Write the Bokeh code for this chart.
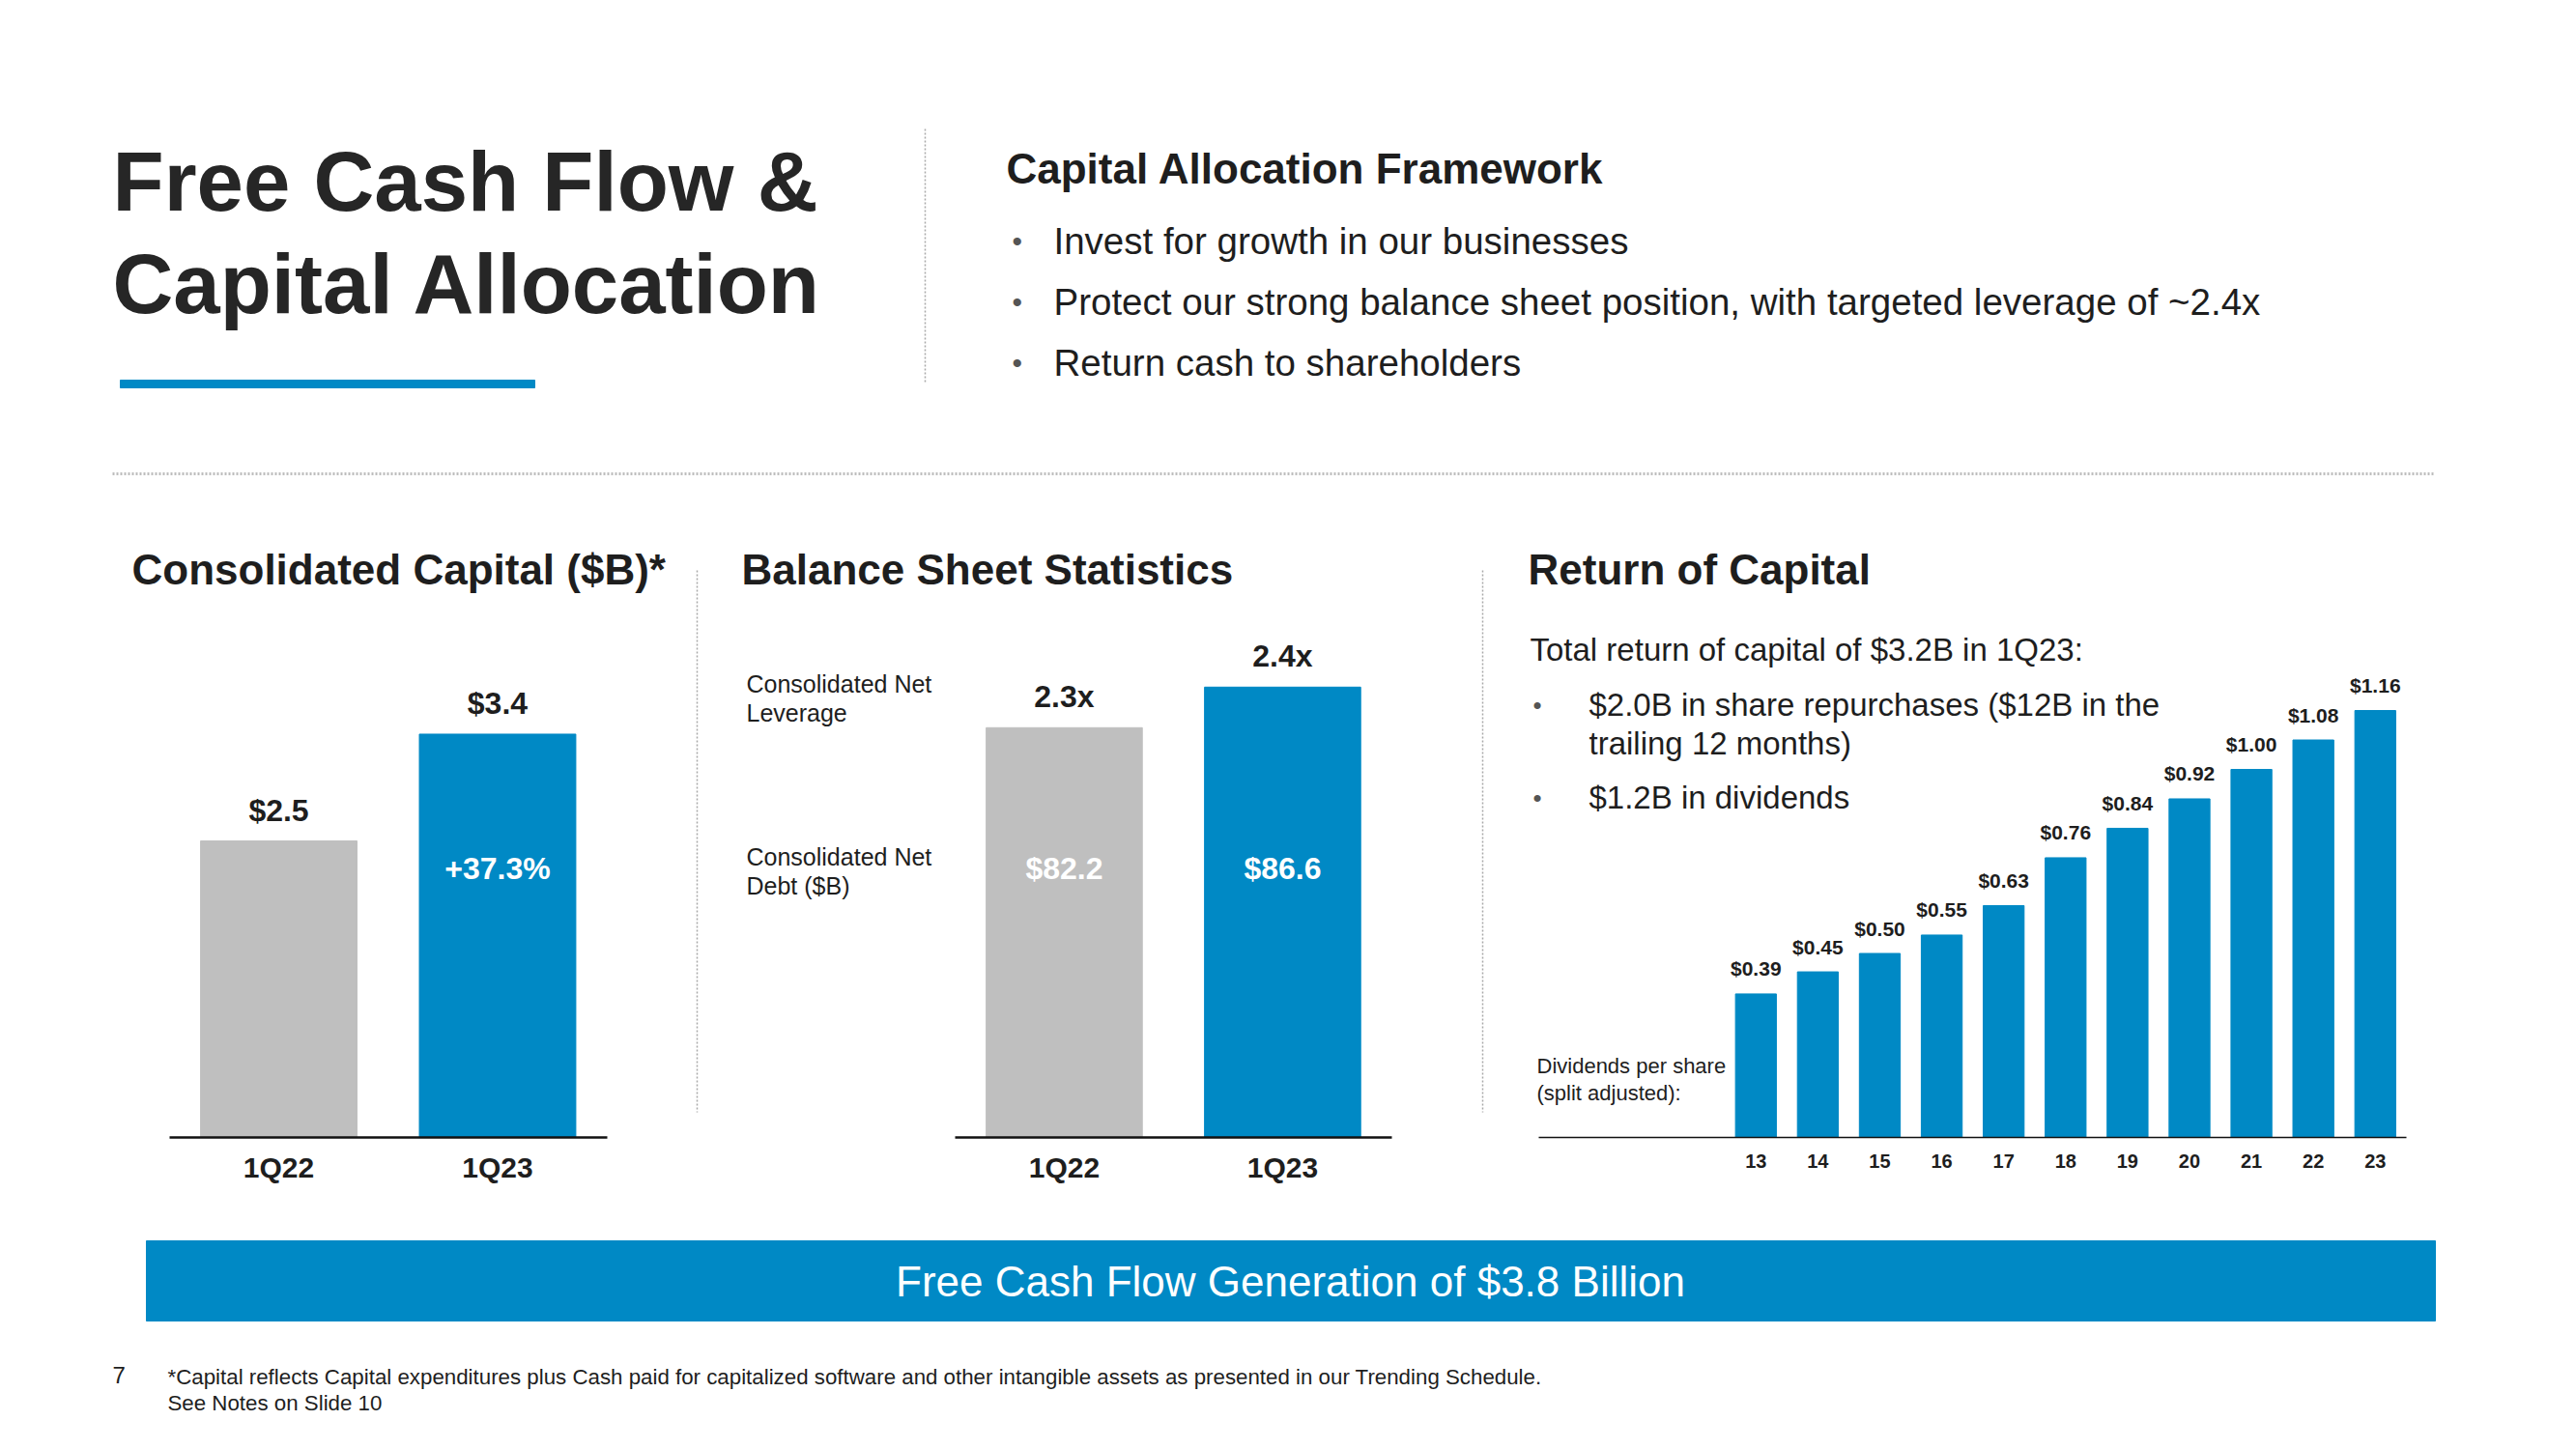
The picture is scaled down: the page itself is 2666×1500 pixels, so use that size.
from bokeh.plotting import figure
from bokeh.layouts import column, row
from bokeh.models import Range1d, LinearAxis, FixedTicker
from bokeh.embed import file_html
from bokeh.resources import INLINE
from bokeh.core.properties import value

# ---------------- data ----------------
capital_periods = ["1Q22", "1Q23"]
capital_values = [2.5, 3.4]
capital_change = "+37.3%"

leverage_periods = ["1Q22", "1Q23"]
leverage_values = [2.3, 2.4]
net_debt_values = [82.2, 86.6]

dividend_years = ["13", "14", "15", "16", "17", "18", "19", "20", "21", "22", "23"]
dividend_values = [0.39, 0.45, 0.50, 0.55, 0.63, 0.76, 0.84, 0.92, 1.00, 1.08, 1.16]

framework_bullets = [
    "Invest for growth in our businesses",
    "Protect our strong balance sheet position, with targeted leverage of ~2.4x",
    "Return cash to shareholders",
]
return_bullets = [
    "$2.0B in share repurchases ($12B in the",
    "trailing 12 months)",
    "$1.2B in dividends",
]

# ---------------- style ----------------
BLUE = "#0089C5"
GRAY = "#BFBFBF"
DARK = "#262626"
TEXT = "#1E1E1E"
SEP = "#A8A8A8"
FONT = "Liberation Sans"
period_colors = [GRAY, BLUE]


def base_fig(w, h, xr, yr, bottom=0):
    p = figure(width=w, height=h, x_range=xr, y_range=yr,
               output_backend="svg", toolbar_location=None,
               x_axis_location=None, y_axis_location=None,
               min_border_left=0, min_border_right=0, min_border_top=0,
               min_border_bottom=bottom, outline_line_color=None,
               background_fill_color="white", border_fill_color="white")
    p.xgrid.visible = False
    p.ygrid.visible = False
    return p


def txt(p, x, y, s, size, bold=False, color=TEXT, align="left", **kw):
    if not isinstance(x, list):
        x, y, s = [x], [y], [s]
    p.text(x=x, y=y, text=s, text_font=value(FONT),
           text_font_size=f"{size}px",
           text_font_style="bold" if bold else "normal",
           text_color=color, text_align=align, text_baseline="middle", **kw)


def add_px(p, w, h):
    p.extra_x_ranges = {"px": Range1d(0, w)}
    p.extra_y_ranges = {"px": Range1d(h, 0)}


def bottom_axis(p, ticks, labels, bounds, size, lw, standoff):
    ax = LinearAxis(ticker=FixedTicker(ticks=ticks),
                    major_label_overrides={t: l for t, l in zip(ticks, labels)},
                    bounds=bounds)
    ax.major_tick_line_color = None
    ax.minor_tick_line_color = None
    ax.axis_line_color = "#111111"
    ax.axis_line_width = lw
    ax.major_label_text_font = FONT
    ax.major_label_text_font_size = f"{size}px"
    ax.major_label_text_font_style = "bold"
    ax.major_label_text_color = TEXT
    ax.major_label_standoff = standoff
    p.add_layout(ax, "below")


# ---------------- header ----------------
W = 2658
HH = 508
hdr = base_fig(W, HH, Range1d(0, W), Range1d(HH, 0))
txt(hdr, 116, 187, "Free Cash Flow &", 87, bold=True, color=DARK)
txt(hdr, 116, 293, "Capital Allocation", 87, bold=True, color=DARK)
hdr.quad(left=[124], right=[553], top=[393], bottom=[401], color=BLUE)
hdr.line(x=[957, 957], y=[133, 396], line_color=SEP, line_width=1.5, line_dash="2 2")
txt(hdr, 1041, 174, "Capital Allocation Framework", 44, bold=True)
for i, b in enumerate(framework_bullets):
    yy = 249 + 63 * i
    txt(hdr, 1047, yy, "\u2022", 30, color="#555555")
    txt(hdr, 1090, yy, b, 38.5)
hdr.line(x=[116, 2518], y=[490, 490], line_color="#BDBDBD", line_width=3, line_dash="2 2")

# ---------------- chart 1: consolidated capital ----------------
H = 740
FH = 669
c1w = 740
c1 = base_fig(c1w, H, Range1d(-1.272, 1.996), Range1d(0, FH / 122.8), bottom=H - FH)
add_px(c1, c1w, FH)
x1 = list(range(len(capital_periods)))
c1.vbar(x=x1, top=capital_values, bottom=0, width=0.715, color=period_colors)
txt(c1, x1, capital_values, [f"${v}" for v in capital_values], 32, bold=True,
    align="center", y_offset=-32)
txt(c1, [x1[1]], [390], [capital_change], 32, bold=True, color="white",
    align="center", y_range_name="px")
txt(c1, 136, 81, "Consolidated Capital ($B)*", 44, bold=True,
    x_range_name="px", y_range_name="px")
c1.line(x=[721, 721], y=[82, 643], line_color=SEP, line_width=1.5, line_dash="2 2",
        x_range_name="px", y_range_name="px")
bottom_axis(c1, x1, capital_periods, (-0.5, 1.5), 30, 2.5, 8)

# ---------------- chart 2: balance sheet ----------------
c2w = 810
lev_floor = 1.29
c2 = base_fig(c2w, H, Range1d(-1.597, 1.987), Range1d(lev_floor, lev_floor + FH / 420), bottom=H - FH)
add_px(c2, c2w, FH)
x2 = list(range(len(leverage_periods)))
c2.vbar(x=x2, top=leverage_values, bottom=lev_floor, width=0.715, color=period_colors)
txt(c2, x2, leverage_values, [f"{v}x" for v in leverage_values], 32, bold=True,
    align="center", y_offset=-32)
txt(c2, x2, [390, 390], [f"${v}" for v in net_debt_values], 32, bold=True,
    color="white", align="center", y_range_name="px")
txt(c2, 27, 81, "Balance Sheet Statistics", 44, bold=True,
    x_range_name="px", y_range_name="px")
txt(c2, [32, 32, 32, 32], [199, 229, 378, 408],
    ["Consolidated Net", "Leverage", "Consolidated Net", "Debt ($B)"], 25,
    x_range_name="px", y_range_name="px")
c2.line(x=[794, 794], y=[82, 643], line_color=SEP, line_width=1.5, line_dash="2 2",
        x_range_name="px", y_range_name="px")
bottom_axis(c2, x2, leverage_periods, (-0.5, 1.5), 30, 2.5, 8)

# ---------------- chart 3: dividends ----------------
c3w = W - c1w - c2w
c3 = base_fig(c3w, H, Range1d(8.838, 8.838 + c3w / 64.1), Range1d(0, FH / 381), bottom=H - FH)
add_px(c3, c3w, FH)
x3 = [int(y) for y in dividend_years]
c3.vbar(x=x3, top=dividend_values, bottom=0, width=0.66, color=BLUE)
txt(c3, x3, dividend_values, [f"${v:.2f}" for v in dividend_values], 21, bold=True,
    align="center", y_offset=-26)
txt(c3, 31, 81, "Return of Capital", 44, bold=True,
    x_range_name="px", y_range_name="px")
txt(c3, 33, 164, "Total return of capital of $3.2B in 1Q23:", 33,
    x_range_name="px", y_range_name="px")
txt(c3, [36, 36], [221, 317], ["\u2022", "\u2022"], 26, color="#555555",
    x_range_name="px", y_range_name="px")
txt(c3, [94, 94, 94], [221, 261, 317], return_bullets, 33,
    x_range_name="px", y_range_name="px")
txt(c3, [40, 40], [595, 623], ["Dividends per share", "(split adjusted):"], 22,
    x_range_name="px", y_range_name="px")
bottom_axis(c3, x3, dividend_years, (9.5, 23.5), 20, 1.5, 11)

# ---------------- footer ----------------
ftr = base_fig(W, 244, Range1d(0, W), Range1d(244, 0))
ftr.quad(left=[151], right=[2520], top=[36], bottom=[119], color=BLUE)
txt(ftr, 1335, 78, "Free Cash Flow Generation of $3.8 Billion", 44, color="white", align="center")
txt(ftr, 116, 175, "7", 24)
txt(ftr, [173, 173], [177, 204],
    ["*Capital reflects Capital expenditures plus Cash paid for capitalized software and other intangible assets as presented in our Trending Schedule.",
     "See Notes on Slide 10"], 22.3)

layout = column(hdr, row(c1, c2, c3), ftr)
open("out.html", "w").write(file_html(layout, INLINE))
